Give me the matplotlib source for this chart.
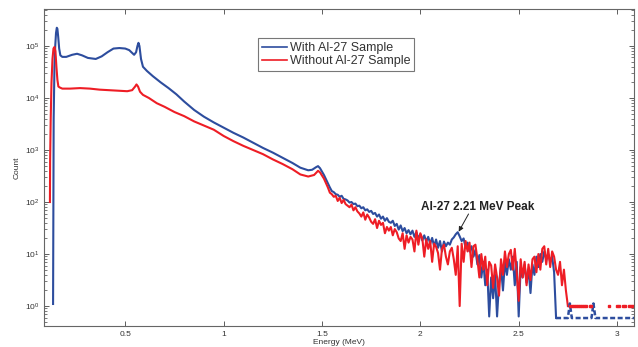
import numpy as np
import matplotlib
matplotlib.use("Agg")
import matplotlib.pyplot as plt

plt.rcParams['font.family'] = ['Liberation Sans', 'DejaVu Sans']
plt.rcParams['mathtext.default'] = 'regular'

# smooth part of the spectra (energy in MeV, log10 of count)
blue_smooth_e = [0.133, 0.134, 0.136, 0.140, 0.144, 0.148, 0.152, 0.155, 0.159, 0.164,
                 0.170, 0.180, 0.20, 0.23, 0.255, 0.28, 0.31, 0.35, 0.38, 0.41,
                 0.44, 0.47, 0.50, 0.52, 0.545, 0.555, 0.562, 0.567, 0.572, 0.58,
                 0.59, 0.61, 0.64, 0.68, 0.72, 0.76, 0.80, 0.85, 0.90, 0.95,
                 1.00, 1.05, 1.10, 1.15, 1.20, 1.25, 1.30, 1.35, 1.39, 1.43,
                 1.45, 1.47, 1.48, 1.49, 1.51, 1.53, 1.54]
blue_smooth_log = [0.04, 1.5, 3.6, 4.6, 5.0, 5.25, 5.35, 5.33, 5.18, 4.95,
                   4.82, 4.79, 4.79, 4.83, 4.85, 4.82, 4.77, 4.75, 4.8, 4.88,
                   4.95, 4.96, 4.95, 4.92, 4.83, 4.88, 5.0, 5.06, 5.0, 4.75,
                   4.6, 4.52, 4.42, 4.3, 4.19, 4.07, 3.93, 3.77, 3.64, 3.53,
                   3.43, 3.33, 3.24, 3.14, 3.04, 2.95, 2.85, 2.75, 2.66, 2.61,
                   2.62, 2.67, 2.69, 2.65, 2.52, 2.36, 2.28]

red_smooth_e = [0.117, 0.118, 0.121, 0.125, 0.130, 0.135, 0.140, 0.145, 0.150, 0.155,
                0.160, 0.168, 0.18, 0.22, 0.27, 0.32, 0.37, 0.42, 0.47, 0.51,
                0.535, 0.550, 0.557, 0.565, 0.575, 0.59, 0.62, 0.66, 0.70, 0.75,
                0.80, 0.85, 0.90, 0.95, 1.00, 1.05, 1.10, 1.15, 1.20, 1.25,
                1.30, 1.35, 1.39, 1.43, 1.46, 1.48, 1.49, 1.51, 1.53, 1.54]
red_smooth_log = [2.0, 2.8, 3.6, 4.3, 4.75, 4.95, 4.98, 4.9, 4.6, 4.35,
                  4.22, 4.2, 4.18, 4.18, 4.19, 4.18, 4.16, 4.15, 4.14, 4.13,
                  4.15, 4.22, 4.26, 4.22, 4.12, 4.06, 4.0, 3.9, 3.83, 3.73,
                  3.65, 3.55, 3.47, 3.39, 3.27, 3.17, 3.08, 3.0, 2.92, 2.82,
                  2.73, 2.63, 2.53, 2.49, 2.52, 2.6, 2.57, 2.45, 2.28, 2.18]

# noisy part, one value per 0.01 MeV channel from 1.55 MeV
blue_noisy_log = [2.21, 2.19, 2.15, 2.14, 2.10, 2.12, 2.06, 2.05, 2.03, 1.99,
                  2.00, 1.96, 1.97, 1.92, 1.93, 1.88, 1.90, 1.84, 1.86, 1.81,
                  1.83, 1.77, 1.79, 1.72, 1.76, 1.68, 1.72, 1.64, 1.69, 1.62,
                  1.60, 1.64, 1.54, 1.58, 1.47, 1.55, 1.44, 1.50, 1.40, 1.46,
                  1.38, 1.45, 1.33, 1.42, 1.30, 1.38, 1.26, 1.36, 1.24, 1.33,
                  1.20, 1.31, 1.15, 1.28, 1.12, 1.25, 1.05, 1.24, 1.15, 1.22,
                  1.18, 1.28, 1.32, 1.38, 1.42, 1.34, 1.25, 1.30, 1.12, 1.22,
                  1.05, 1.15, 0.95, 1.08, 0.80, 0.98, 0.55, 0.85, 0.40, 0.70,
                  -0.2, 0.55, 0.15, 0.60, -0.2, 0.45, 0.75, 0.30, 0.85, 0.60,
                  0.90, 0.70, 0.95, 0.40, 0.85, -0.2, 0.75, 0.55, 0.80, 0.45,
                  0.70, 0.25, 0.80, 0.60, 0.95, 0.75, 1.00, 0.85, 1.05, 0.90,
                  1.00, 0.85, 0.95, 0.65, -0.23]

red_noisy_log = [2.15, 2.10, 2.12, 2.02, 2.08, 1.98, 2.04, 1.96, 1.93, 1.90,
                 1.95, 1.84, 1.90, 1.82, 1.78, 1.72, 1.80, 1.66, 1.76, 1.70,
                 1.62, 1.58, 1.67, 1.50, 1.64, 1.56, 1.60, 1.40, 1.52, 1.45,
                 1.52, 1.36, 1.48, 1.42, 1.30, 1.25, 1.40, 1.10, 1.36, 1.22,
                 1.33, 1.28, 1.05, 1.45, 1.18, 1.40, 1.30, 0.95, 1.28, 1.10,
                 1.25, 0.85, 1.20, 1.14, 1.02, 0.70, 1.10, 1.18, 0.95, 0.80,
                 1.05, 1.12, 0.90, 0.60, 1.15, 0.00, 1.20, 0.85, 1.25, 1.05,
                 1.22, 0.75, 1.15, 1.18, 0.90, 0.55, 1.00, 0.70, 0.95, 0.40,
                 0.85, 0.78, 0.35, 0.80, 0.55, 0.20, 0.90, 0.60, 1.05, 0.75,
                 1.00, 1.08, 0.70, 1.10, 0.65, 0.10, 0.90, 0.55, 0.85, 0.40,
                 0.80, 0.50, 0.90, 0.95, 0.65, 1.00, 0.70, 1.10, 1.15, 0.80,
                 1.10, 0.75, 1.05, 0.95, 0.70, 0.60, 0.85, 0.40, 0.70, 0.30,
                 0.00]

# sparse channels above the spectrum end
blue_tail_e = [2.69, 2.75, 2.76, 2.77, 2.87, 2.88, 2.89, 3.09]
blue_tail_log = [-0.23, -0.23, 0.05, -0.23, -0.23, 0.05, -0.23, -0.23]
red_tail_e = [2.76, 2.77, 2.78, 2.79, 2.80, 2.81, 2.82, 2.83, 2.84, 2.86, 2.87,
              2.96, 3.00, 3.01, 3.03, 3.04, 3.06, 3.07, 3.08]
red_tail_log = [0.0] * len(red_tail_e)

blue_e = np.concatenate([blue_smooth_e, np.round(1.55 + 0.01 * np.arange(len(blue_noisy_log)), 2)])
blue_c = 10 ** np.concatenate([blue_smooth_log, blue_noisy_log])
red_e = np.concatenate([red_smooth_e, np.round(1.55 + 0.01 * np.arange(len(red_noisy_log)), 2)])
red_c = 10 ** np.concatenate([red_smooth_log, red_noisy_log])

blue = '#2d4d9e'
red = '#ee1d25'

fig = plt.figure(figsize=(6.38, 3.47), dpi=100)
ax = fig.add_axes([0.069, 0.061, 0.925, 0.913])

ax.plot(blue_e, blue_c, color=blue, lw=1.5, label='With Al-27 Sample')
ax.plot(red_e, red_c, color=red, lw=1.5, label='Without Al-27 Sample')
ax.plot(blue_tail_e, 10 ** np.array(blue_tail_log), color=blue, lw=1.8, ls=(0, (2, 1)))
ax.plot(red_tail_e, 10 ** np.array(red_tail_log), color=red, ls='none', marker='s', ms=2)

ax.set_yscale('log')
ax.set_xlim(0.087, 3.087)
ax.set_ylim(10 ** -0.38, 10 ** 5.71)
ax.set_xticks([0.5, 1, 1.5, 2, 2.5, 3])
ax.set_xticklabels(['0.5', '1', '1.5', '2', '2.5', '3'])
ax.set_yticks([1, 10, 100, 1e3, 1e4, 1e5])
ax.tick_params(axis='both', which='both', direction='in', top=True, right=True,
               labelsize=6, colors='#444444', labelcolor='#333333')
ax.tick_params(which='major', length=3.5, width=0.6)
ax.tick_params(which='minor', length=2, width=0.5)
for s in ax.spines.values():
    s.set_color('#666666')
    s.set_linewidth(0.8)

ax.set_xlabel('Energy (MeV)', fontsize=6, color='#333333', labelpad=1)
ax.set_ylabel('Count', fontsize=6, color='#333333', labelpad=3)

leg = ax.legend(loc='upper left', bbox_to_anchor=(0.363, 0.908), borderaxespad=0,
                fontsize=9, handlelength=2.0, handletextpad=0.25, labelspacing=0.1,
                borderpad=0.3, fancybox=False, framealpha=1)
leg.get_frame().set_edgecolor('#777777')
leg.get_frame().set_linewidth(0.8)
for line in leg.get_lines():
    line.set_linewidth(1.2)
for t in leg.get_texts():
    t.set_color('#333333')

ax.text(2.29, 10 ** 1.90, 'Al-27 2.21 MeV Peak', fontsize=8.5, fontweight='bold',
        ha='center', va='center', color='#222222')
ax.annotate('', xy=(2.195, 10 ** 1.43), xytext=(2.245, 10 ** 1.77),
            arrowprops=dict(arrowstyle='-|>', color='#222222', lw=0.7,
                            mutation_scale=7, shrinkA=0, shrinkB=0))

fig.savefig('out.png', dpi=100)
